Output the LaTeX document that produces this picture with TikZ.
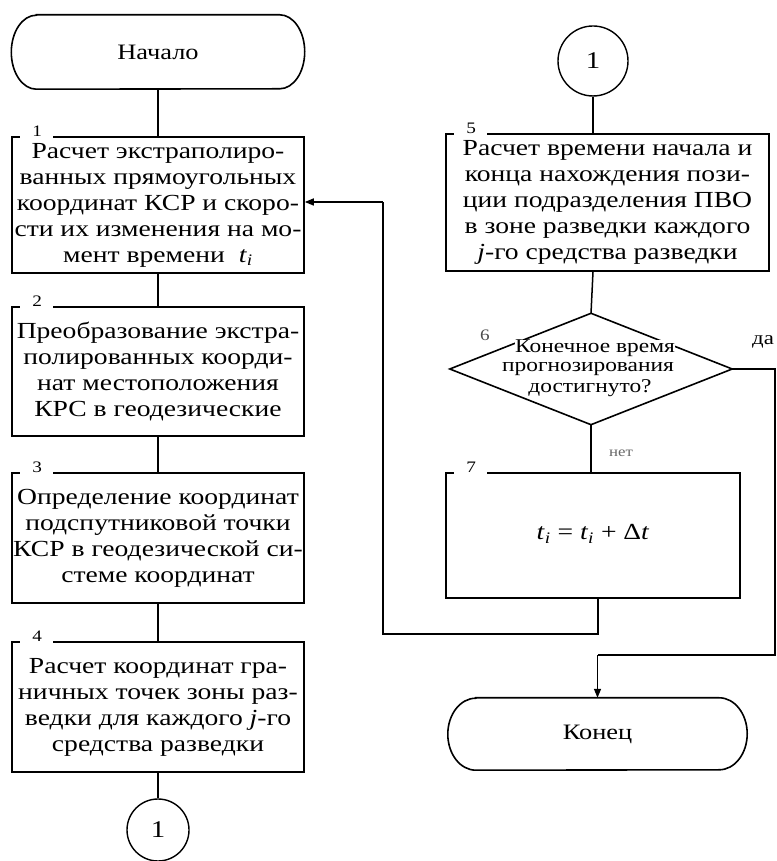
\documentclass[tikz,border=0pt]{standalone}
\usepackage{fontspec}
\usepackage{amsmath}
\setmainfont{Liberation Serif}[FakeStretch=1.2]
\usetikzlibrary{arrows.meta}
\newcommand\mytermline[3]{\draw[line width=1.6pt] ([xshift=#2pt]#1.north west) -- ([xshift=-#2pt]#1.north east) arc[start angle=90,end angle=-90,x radius=#2pt,y radius=#3pt] -- ([xshift=#2pt]#1.south west) arc[start angle=270,end angle=90,x radius=#2pt,y radius=#3pt] -- cycle;}
\newcommand\tI{\textit{t}$_{\textit{i}}$}
\begin{document}
\begin{tikzpicture}[x=1pt,y=1pt,
  box/.style={draw, line width=1.6pt, inner sep=0pt, align=center, font=\fontsize{23}{26}\selectfont},
  term/.style={draw=none, inner sep=0pt, align=center, font=\fontsize{22}{26}\selectfont},
  dtext/.style={fill=white, inner sep=0pt, text height=12pt, text depth=3pt, font=\fontsize{19.5}{20}\selectfont},
  conn/.style={line width=1.5pt},
  arr/.style={line width=1.5pt, -{Triangle[length=9pt,width=7pt]}},
  num/.style={font=\fontsize{16}{16}\selectfont, inner sep=0pt, anchor=south},
  gap/.style={white, line width=4pt},
  circ/.style={draw, circle, line width=1.4pt, inner sep=0pt, font=\fontsize{24}{24}\selectfont}
]
\useasboundingbox (0,0) rectangle (776,861);

% left column
\node[term, minimum width=293pt, minimum height=74pt] (start) at (158,809) {Начало};
\mytermline{start}{25}{37}

\node[box, minimum width=292pt, minimum height=136pt] (b1) at (158,656)
  {Расчет экстраполиро-\\ванных прямоугольных\\координат КСР и скоро-\\сти их изменения на мо-\\мент времени \ \tI};
\node[box, minimum width=292pt, minimum height=129pt] (b2) at (158,489.5)
  {Преобразование экстра-\\полированных коорди-\\нат местоположения\\КРС в геодезические};
\node[box, minimum width=292pt, minimum height=130pt] (b3) at (158,323)
  {Определение координат\\подспутниковой точки\\КСР в геодезической си-\\стеме координат};
\node[box, minimum width=292pt, minimum height=130pt] (b4) at (158,154)
  {Расчет координат гра-\\ничных точек зоны раз-\\ведки для каждого \textit{j}-го\\средства разведки};
\node[circ, minimum size=62pt] (c1) at (158,31) {1};

% right column
\node[circ, minimum size=70pt] (c2) at (593,800) {1};
\node[box, minimum width=323pt, minimum height=137pt] (b5) at (607.5,658.5)
  {Расчет времени начала и\\конца нахождения пози-\\ции подразделения ПВО\\в зоне разведки каждого\\\textit{j}-го средства разведки};
\node[draw=none, minimum width=282pt, minimum height=111pt, inner sep=0pt] (d6) at (591,492) {};
\draw[line width=1.6pt] (d6.north) -- (d6.east) -- (d6.south) -- (d6.west) -- cycle;
\node[dtext] (d6a) at (595,513) {Конечное время};
\node[dtext] (d6b) at (588,493.5) {прогнозирования};
\node[dtext] (d6c) at (590,473) {достигнуто?};
\node[box, minimum width=294pt, minimum height=125pt] (b7) at (593,325.5)
  {\raisebox{7pt}{\tI\ = \tI\ + Δ\textit{t}}};
\node[term, minimum width=299pt, minimum height=72pt] (end) at (597.5,127) {Конец};
\mytermline{end}{28}{36}

% block numbers
\foreach \b/\n in {b1/1,b2/2,b3/3,b4/4,b5/5,b7/7}{
  \draw[gap] ([xshift=9pt]\b.north west) -- ([xshift=42pt]\b.north west);
  \node[num] at ([xshift=26pt,yshift=-1pt]\b.north west) {\n};
}
\node[font=\fontsize{16}{16}\selectfont, text=black!70, inner sep=0pt] (n6) at (485,526) {6};
\node[font=\fontsize{19}{19}\selectfont, inner sep=0pt] (yes) at (763,519) {да};
\node[font=\fontsize{14}{14}\selectfont, text=black!60, inner sep=0pt] (no) at (621,408) {нет};

% connectors left
\draw[conn] (start.south) -- (b1.north);
\draw[conn] (b1.south) -- (b2.north);
\draw[conn] (b2.south) -- (b3.north);
\draw[conn] (b3.south) -- (b4.north);
\draw[conn] (b4.south) -- (c1.north);

% connectors right
\draw[conn] (c2.south) -- (c2.south |- b5.north);
\draw[conn] (c2.south |- b5.south) -- (d6.north);
\draw[conn] (d6.south) -- (d6.south |- b7.north);
\coordinate (l1) at (598,227);
\coordinate (l2) at (383,227);
\coordinate (l3) at (383,659);
\draw[conn] (l1 |- b7.south) -- (l1) -- (l2) -- (l3);
\draw[arr] (l3) -- (b1.east |- l3);
\coordinate (r1) at (775,492);
\coordinate (r2) at (775,206);
\draw[conn] (d6.east) -- (r1) -- (r2) -- (end.north |- r2);
\draw[arr] (end.north |- r2) -- (end.north);
\end{tikzpicture}
\end{document}
